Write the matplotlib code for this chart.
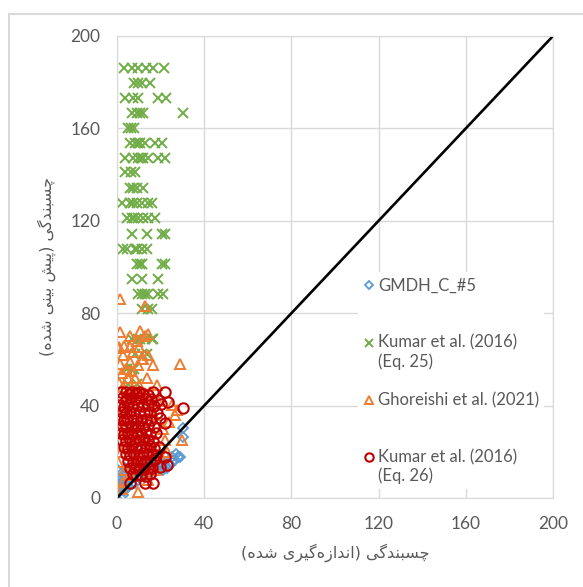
import matplotlib
matplotlib.use('Agg')
import numpy as np
import matplotlib.pyplot as plt
from matplotlib.patches import Rectangle
from matplotlib.legend_handler import HandlerLine2D

# hand-made arabic shaping (no reshaper lib in the sandbox)
# forms: isolated, final, initial, medial
FORMS = {
	'\u0627': '\uFE8D\uFE8E', '\u062F': '\uFEA9\uFEAA', '\u0631': '\uFEAD\uFEAE', '\u0632': '\uFEAF\uFEB0',
	'\u0628': '\uFE8F\uFE90\uFE91\uFE92', '\u067E': '\uFB56\uFB57\uFB58\uFB59', '\u0686': '\uFB7A\uFB7B\uFB7C\uFB7D',
	'\u0633': '\uFEB1\uFEB2\uFEB3\uFEB4', '\u0634': '\uFEB5\uFEB6\uFEB7\uFEB8', '\u0646': '\uFEE5\uFEE6\uFEE7\uFEE8',
	'\u06AF': '\uFB92\uFB93\uFB94\uFB95', '\u06CC': '\uFBFC\uFBFD\uFBFE\uFBFF', '\u0647': '\uFEE9\uFEEA\uFEEB\uFEEC',
}

def shape(s):
	out = []
	for i, c in enumerate(s):
		if c not in FORMS:
			if c != '\u200c':
				out.append(c)
			continue
		p = s[i - 1] if i > 0 else ''
		n = s[i + 1] if i + 1 < len(s) else ''
		jp = p in FORMS and len(FORMS[p]) == 4
		jn = len(FORMS[c]) == 4 and n in FORMS
		k = 3 if (jp and jn) else 1 if jp else 2 if jn else 0
		out.append(FORMS[c][k])
	vis = ''.join(out)[::-1]
	return vis.translate(str.maketrans('()', ')('))

class FirstLineHandler(HandlerLine2D):
	# put the legend marker next to the first line of a two-line label
	def create_artists(self, legend, orig_handle, xdescent, ydescent, width, height, fontsize, trans):
		arts = super().create_artists(legend, orig_handle, xdescent, ydescent, width, height, fontsize, trans)
		for a in arts:
			a.set_ydata(np.asarray(a.get_ydata()) + 0.6 * fontsize)
		return arts

x_title = 'چسبندگی (اندازه\u200cگیری شده)'
y_title = 'چسبندگی (پیش بینی شده)'
ticks = [0, 40, 80, 120, 160, 200]
labels = ['GMDH_C_#5\n', 'Kumar et al. (2016)\n(Eq. 25)', 'Ghoreishi et al. (2021)\n', 'Kumar et al. (2016)\n(Eq. 26)']

gmdh_x = [0.6, 1.4, 2.9, 1.0, 2.0, 3.0, 4.0, 2.5, 3.5, 5.0, 6.0, 7.0, 8.3, 9.0, 10.0, 11.0, 12.8, 13.0, 14.0, 15.0,
	16.0, 17.4, 18.0, 19.0, 20.0, 21.0, 22.0, 23.0, 24.3, 25.0, 26.6, 28.1, 28.9, 30.4, 30.4, 27.0, 25.0, 22.0, 18.0,
	14.0, 10.0, 6.0, 4.0, 0.5, 1.5, 3.0, 1.4, 0.2]
gmdh_y = [12.1, 4.9, 1.3, 3.0, 6.0, 8.0, 10.0, 11.0, 13.0, 5.0, 8.0, 6.0, 6.4, 11.0, 9.0, 12.0, 9.2, 13.0, 11.0, 14.0,
	12.0, 11.4, 13.0, 16.0, 14.0, 12.0, 13.5, 13.0, 14.3, 15.7, 16.5, 17.9, 17.9, 26.5, 30.2, 19.0, 17.9, 18.0, 16.0,
	15.0, 13.0, 12.0, 4.0, 2.0, 8.0, 3.0, 6.5, 5.6]

k25_x = [3.3, 6.7, 9.8, 13.2, 16.5, 21.6,
	8.0, 9.5, 11.3, 15.0,
	3.7, 7.5, 9.8, 19.0, 22.5,
	6.7, 9.0, 10.5, 12.0, 30.4,
	5.2, 6.5, 8.0,
	6.0, 8.3, 9.5, 10.6, 12.8, 17.4, 20.5,
	3.7, 7.5, 9.8, 11.0, 12.1, 14.4, 18.9, 22.0,
	3.7, 6.5, 8.3,
	6.0, 7.5, 9.0, 12.0,
	2.1, 6.0, 7.5, 9.0, 11.3, 14.4, 15.9,
	4.4, 6.7, 8.0, 9.8, 12.1, 14.4, 17.4,
	6.7, 13.6, 20.5, 22.0,
	2.9, 4.4, 8.3, 9.0, 11.3, 13.6,
	9.0, 10.5, 11.3, 20.5, 22.0,
	6.7, 11.3, 18.9,
	9.8, 11.5, 12.8, 14.4, 18.9, 21.2,
	11.3, 14.0, 15.9,
	6.7, 9.8, 10.6, 12.8, 15.9, 16.7,
	8.3, 11.3, 13.6,
	4.4, 6.7, 8.0,
	5.0, 9.0]
k25_y = [186] * 6 + [179.5] * 4 + [173] * 5 + [166.5] * 5 + [160] * 3 + [153.5] * 7 + [147] * 8 + [141] * 3 + \
	[134] * 4 + [127.5] * 7 + [121] * 7 + [114.5] * 4 + [108] * 6 + [101.5] * 5 + [95] * 3 + [88.5] * 6 + \
	[82] * 3 + [69] * 6 + [62.5] * 3 + [56] * 3 + [49.5] * 2

gh_x = [1.4, 12.8, 1.4, 6.0, 10.6, 12.8, 14.4, 0.9, 0.6, 6.0, 10.0, 2.9, 7.5, 14.4, 6.0, 9.8, 16.7, 28.9, 2.1, 8.3,
	13.6, 18.2, 2.9, 4.4, 12.8, 25.0, 27.4, 26.6, 29.7, 0.6, 0.6, 0.6, 2.9, 9.8, 1.5, 4.0, 5.0, 7.0, 10.0, 15.0,
	3.0, 1.5, 2.0, 3.5, 5.0, 7.0, 9.0, 11.0, 13.0, 15.0, 17.0, 19.0, 21.0, 23.0, 4.0, 6.0, 14.0, 16.0, 18.0, 20.0,
	22.0, 11.0, 8.0, 12.0, 5.0, 1.0, 3.0, 9.0, 11.5, 24.0, 2.5, 6.5]
gh_y = [86.0, 83.0, 72.0, 70.0, 72.3, 70.0, 71.0, 65.5, 64.8, 65.5, 65.5, 62.0, 63.3, 62.0, 59.0, 57.6, 57.6, 58.0, 54.0,
	51.8, 51.8, 49.0, 48.2, 43.2, 45.3, 40.3, 38.1, 36.0, 25.1, 36.0, 25.1, 15.7, 7.0, 2.7, 58.0, 56.0, 52.0, 47.0,
	49.0, 46.0, 40.0, 30.0, 20.0, 12.0, 28.0, 22.0, 32.0, 18.0, 27.0, 14.0, 36.0, 42.0, 30.0, 20.0, 34.0, 10.0, 8.0,
	22.0, 12.0, 18.0, 25.0, 40.0, 15.0, 60.0, 45.0, 50.0, 66.0, 68.0, 60.0, 33.0, 4.0, 55.0]

k26_x = [2.0, 4.0, 5.5, 7.0, 8.5, 10.0, 12.0, 14.0, 16.7, 22.0, 23.5, 30.4, 19.7, 22.0, 6.0, 12.8, 16.7, 19.7, 22.8, 22.0,
	2.3, 4.1, 6.2, 8.4, 10.3, 13.1, 15.8, 18.9,
	1.6, 3.2, 5.1, 7.3, 9.2, 11.4, 14.2, 16.9, 20.3,
	2.1, 4.3, 6.1, 7.9, 10.2, 12.3, 15.1, 18.2,
	1.2, 3.1, 4.8, 7.2, 9.1, 11.2, 13.3, 15.8,
	2.4, 4.2, 6.3, 8.1, 9.8, 12.1, 14.3, 17.2,
	1.7, 3.3, 5.2, 6.8, 9.3, 10.9, 13.2, 15.2, 18.1,
	2.2, 3.9, 6.1, 8.3, 10.1, 11.8, 14.1, 16.3,
	3.1, 5.2, 7.1, 8.8, 11.2, 13.1, 15.3, 17.1, 19.2,
	4.2, 6.1, 7.9, 10.2, 12.1, 13.9, 16.2, 18.1,
	5.1, 7.2, 9.1, 11.1, 12.9, 15.1, 17.2,
	6.1, 8.2, 9.9, 12.2, 14.1, 16.1,
	7.2, 8.9, 11.1, 13.2, 15.1]
k26_y = [46.0, 46.0, 45.0, 46.0, 45.5, 46.0, 45.0, 44.5, 46.0, 46.0, 41.7, 38.8, 34.5, 32.3, 6.4, 6.4, 6.4, 13.5, 14.3, 17.9,
	43.1, 42.6, 43.4, 42.8, 43.3, 42.7, 43.0, 42.4,
	40.2, 39.6, 40.4, 39.8, 40.1, 39.7, 40.3, 39.9, 40.6,
	37.2, 36.8, 37.3, 36.9, 37.1, 36.7, 37.4, 36.8,
	34.1, 33.7, 34.3, 33.8, 34.2, 33.9, 34.4, 33.6,
	31.2, 30.8, 31.3, 30.7, 31.1, 30.9, 31.4, 30.6,
	28.3, 27.8, 28.1, 27.7, 28.2, 27.9, 28.4, 27.6, 28.0,
	25.2, 24.8, 25.1, 24.7, 25.3, 24.9, 25.2, 24.6,
	22.1, 21.8, 22.3, 21.7, 22.2, 21.9, 22.4, 21.6, 22.0,
	19.2, 18.7, 19.1, 18.8, 19.3, 18.9, 19.2, 18.6,
	16.1, 15.8, 16.2, 15.7, 16.1, 15.9, 16.3,
	13.1, 12.8, 13.2, 12.7, 13.1, 12.9,
	10.2, 9.8, 10.1, 9.7, 10.3]

line_x = [0, 200]
line_y = [0, 200]

gray = '#595959'
grid = '#d9d9d9'

fig = plt.figure(figsize=(5.83, 5.87), dpi=100)
ax = fig.add_axes([117 / 583, 89 / 587, 436 / 583, 462 / 587])

ax.plot(gmdh_x, gmdh_y, ls='none', marker='D', ms=5.5, mfc='none', mec='#5b9bd5', mew=1.3, label=labels[0])
ax.plot(k25_x, k25_y, ls='none', marker='x', ms=7, mec='#70ad47', mew=1.4, label=labels[1])
ax.plot(gh_x, gh_y, ls='none', marker='^', ms=7.5, mfc='none', mec='#ed7d31', mew=1.4, label=labels[2])
ax.plot(k26_x, k26_y, ls='none', marker='o', ms=7.5, mfc='none', mec='#c00000', mew=1.5, label=labels[3])
ax.plot(line_x, line_y, color='black', lw=1.9)

ax.set_xlim(0, 200)
ax.set_ylim(0, 200)
ax.set_xticks(ticks)
ax.set_yticks(ticks)
ax.grid(True, color=grid, lw=1)
ax.set_axisbelow(True)
for s in ax.spines.values():
	s.set_color(grid)
ax.tick_params(length=0, labelsize=12.5, labelcolor=gray)
ax.tick_params(axis='x', pad=13)
ax.tick_params(axis='y', pad=12)
for t in ax.get_xticklabels() + ax.get_yticklabels():
	t.set_family(['Lato', 'DejaVu Sans'])

ax.set_xlabel(shape(x_title), family='DejaVu Sans', fontsize=11.5, color=gray, labelpad=8)
ax.set_ylabel(shape(y_title), family='DejaVu Sans', fontsize=11.5, color=gray, labelpad=10)

leg = ax.legend(loc='upper left', bbox_to_anchor=(350 / 583, 1 - 264 / 587), bbox_transform=fig.transFigure,
	frameon=True, facecolor='white', edgecolor='none', framealpha=1, fancybox=False,
	handlelength=0.7, handletextpad=0.2, labelspacing=1.34, borderpad=0.3, markerscale=0.8,
	handler_map={matplotlib.lines.Line2D: FirstLineHandler()},
	prop={'family': ['Lato', 'DejaVu Sans'], 'size': 12})
for t in leg.get_texts():
	t.set_color(gray)

# outer chart border (top and left only are in view)
fig.patches.append(Rectangle((9 / 583, -0.1), 1.2, 1.1 - 14 / 587, transform=fig.transFigure,
	fill=False, ec=grid, lw=1.5))

fig.savefig('out.png', dpi=100)
